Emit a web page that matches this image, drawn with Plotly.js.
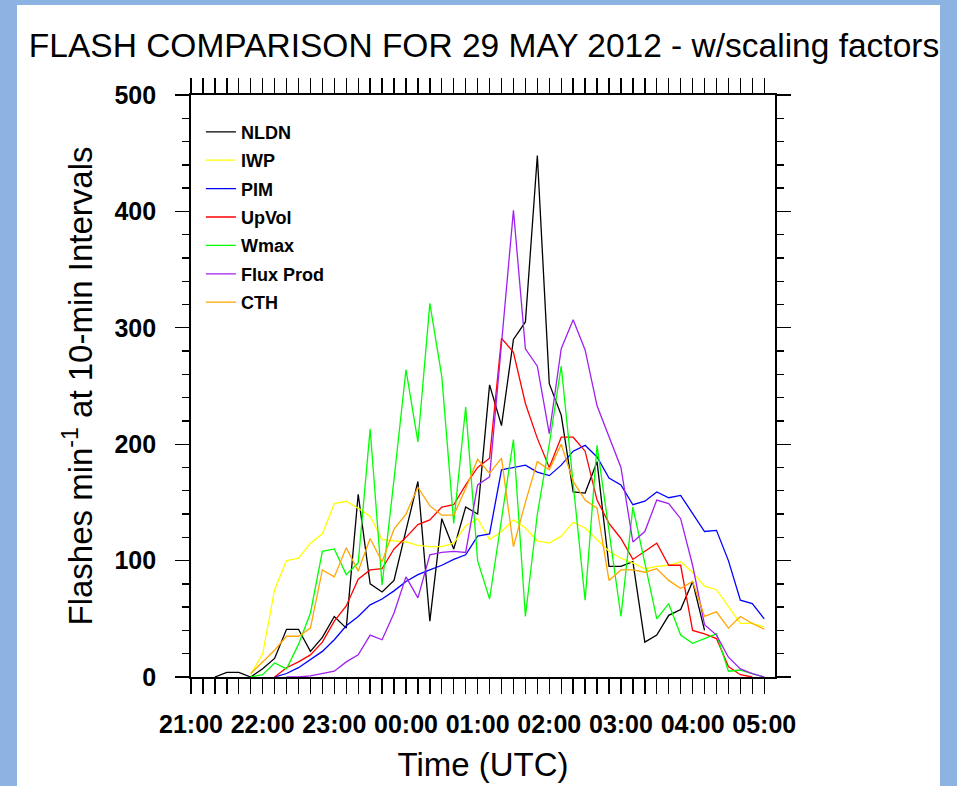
<!DOCTYPE html>
<html>
<head>
<meta charset="utf-8">
<script src="https://cdn.plot.ly/plotly-3.0.1.min.js"></script>
<style>
html,body{margin:0;padding:0;background:#8db3e2;width:957px;height:786px;overflow:hidden;}
#plot{position:absolute;left:17px;top:5px;width:923px;height:781px;background:#ffffff;}
</style>
</head>
<body>
<div id="plot"></div>
<script>
// time axis: minutes after 21:00 UTC, 10-min intervals (21:00 ... 05:00)
const minutesAfter2100 = [0,10,20,30,40,50,60,70,80,90,100,110,120,130,140,150,160,170,180,190,200,210,220,230,240,250,260,270,280,290,300,310,320,330,340,350,360,370,380,390,400,410,420,430,440,450,460,470,480];
const hourTickMinutes = [0,60,120,180,240,300,360,420,480];
const hourLabels = ["21:00","22:00","23:00","00:00","01:00","02:00","03:00","04:00","05:00"];

const seriesNames = ["NLDN","IWP","PIM","UpVol","Wmax","Flux Prod","CTH"];
const seriesColors = ["#000000","#ffff00","#0000ff","#ff0000","#00ff00","#a020f0","#ffa500"];

const NLDN = [null,null,0,4,4,0,7,16,41,41,22,34,52,42,157,80,73,83,126,168,48,136,110,146,140,251,216,290,305,448,252,225,159,158,185,95,95,99,30,36,53,58,82,40,null,null,null,null,null];
const IWP = [null,null,null,null,null,2,20,75,100,102,115,123,149,151,145,138,118,117,116,113,112,112,115,130,136,118,125,135,128,117,115,121,133,128,118,108,102,98,93,95,96,99,90,78,75,60,46,46,43];
const PIM = [null,null,null,null,null,null,null,0,3,8,15,22,32,44,52,62,67,74,82,88,92,96,101,105,121,123,178,180,182,176,173,182,194,199,189,171,165,148,151,159,154,156,141,125,126,100,66,63,50];
const UpVol = [null,null,null,null,null,null,null,0,8,13,19,30,48,61,84,92,93,110,120,131,135,146,148,165,180,188,291,279,235,205,180,206,206,194,152,132,119,101,108,115,96,96,40,37,33,9,2,0,null];
const Wmax = [null,null,null,null,null,0,2,12,7,28,55,108,110,88,98,213,79,170,264,202,321,258,132,232,100,67,135,204,52,140,200,267,166,66,199,125,52,146,98,50,63,36,29,33,37,5,6,3,0];
const FluxProd = [null,null,null,null,null,null,null,null,0,0,1,3,5,13,19,36,32,55,86,68,105,107,108,107,165,172,285,401,282,267,209,282,307,281,233,207,180,116,125,152,149,136,96,45,36,17,7,3,0];
const CTH = [null,null,null,null,null,3,13,23,35,35,42,92,86,111,91,119,99,127,140,163,147,139,139,162,187,175,188,112,150,185,178,200,168,152,145,83,92,92,90,93,83,76,82,52,56,42,52,46,41];

const allSeries = [NLDN, IWP, PIM, UpVol, Wmax, FluxProd, CTH];

const FONT = '"Liberation Sans", Arial, Helvetica, sans-serif';

const traces = allSeries.map((vals, i) => ({
  type: 'scatter',
  mode: 'lines',
  x: minutesAfter2100,
  y: vals,
  name: seriesNames[i],
  legendgroup: 'g' + i,
  line: {color: seriesColors[i], width: 1.3},
  connectgaps: false,
  hoverinfo: 'x+y+name'
}));

const layout = {
  width: 923,
  height: 781,
  paper_bgcolor: '#ffffff',
  plot_bgcolor: '#ffffff',
  margin: {l: 174, r: 165, t: 90, b: 109},
  font: {family: FONT, color: '#000'},
  title: {
    text: 'FLASH COMPARISON FOR 29 MAY 2012 - w/scaling factors',
    font: {family: FONT, size: 33.5, color: '#000'},
    x: 0.506, xref: 'container', xanchor: 'center',
    y: 1 - 40/781, yref: 'container', yanchor: 'middle'
  },
  showlegend: true,
  legend: {
    x: 0.017, y: 0.968, xanchor: 'left', yanchor: 'top',
    bgcolor: 'rgba(0,0,0,0)', borderwidth: 0,
    font: {family: FONT, size: 18, color: '#000', weight: 'bold'},
    tracegroupgap: 2,
    traceorder: 'grouped'
  },
  xaxis: {
    range: [0, 489],
    tickmode: 'array',
    tickvals: hourTickMinutes,
    ticktext: hourLabels,
    ticks: 'outside', ticklen: 15, tickwidth: 1.4, tickcolor: '#000',
    minor: {dtick: 10, tick0: 0, ticks: 'outside', ticklen: 15, tickwidth: 1.4, tickcolor: '#000'},
    showline: true, linewidth: 1.8, linecolor: '#000', mirror: 'ticks',
    showgrid: false, zeroline: false,
    tickfont: {family: FONT, size: 25, color: '#000', weight: 'bold'},
    ticklabelstandoff: 9,
    title: {text: 'Time (UTC)', font: {family: FONT, size: 33, color: '#000'}, standoff: 16}
  },
  yaxis: {
    range: [0, 500],
    tickmode: 'linear', tick0: 0, dtick: 100,
    ticks: 'outside', ticklen: 14, tickwidth: 1.4, tickcolor: '#000',
    minor: {dtick: 20, tick0: 0, ticks: 'outside', ticklen: 7, tickwidth: 1.4, tickcolor: '#000'},
    showline: true, linewidth: 1.8, linecolor: '#000', mirror: 'ticks',
    showgrid: false, zeroline: false,
    tickfont: {family: FONT, size: 25, color: '#000', weight: 'bold'},
    ticklabelstandoff: 14,
    title: {text: 'Flashes min<sup>-1</sup> at 10-min Intervals', font: {family: FONT, size: 33, color: '#000'}, standoff: 12}
  }
};

Plotly.newPlot('plot', traces, layout, {displayModeBar: false, staticPlot: true});
</script>
</body>
</html>
